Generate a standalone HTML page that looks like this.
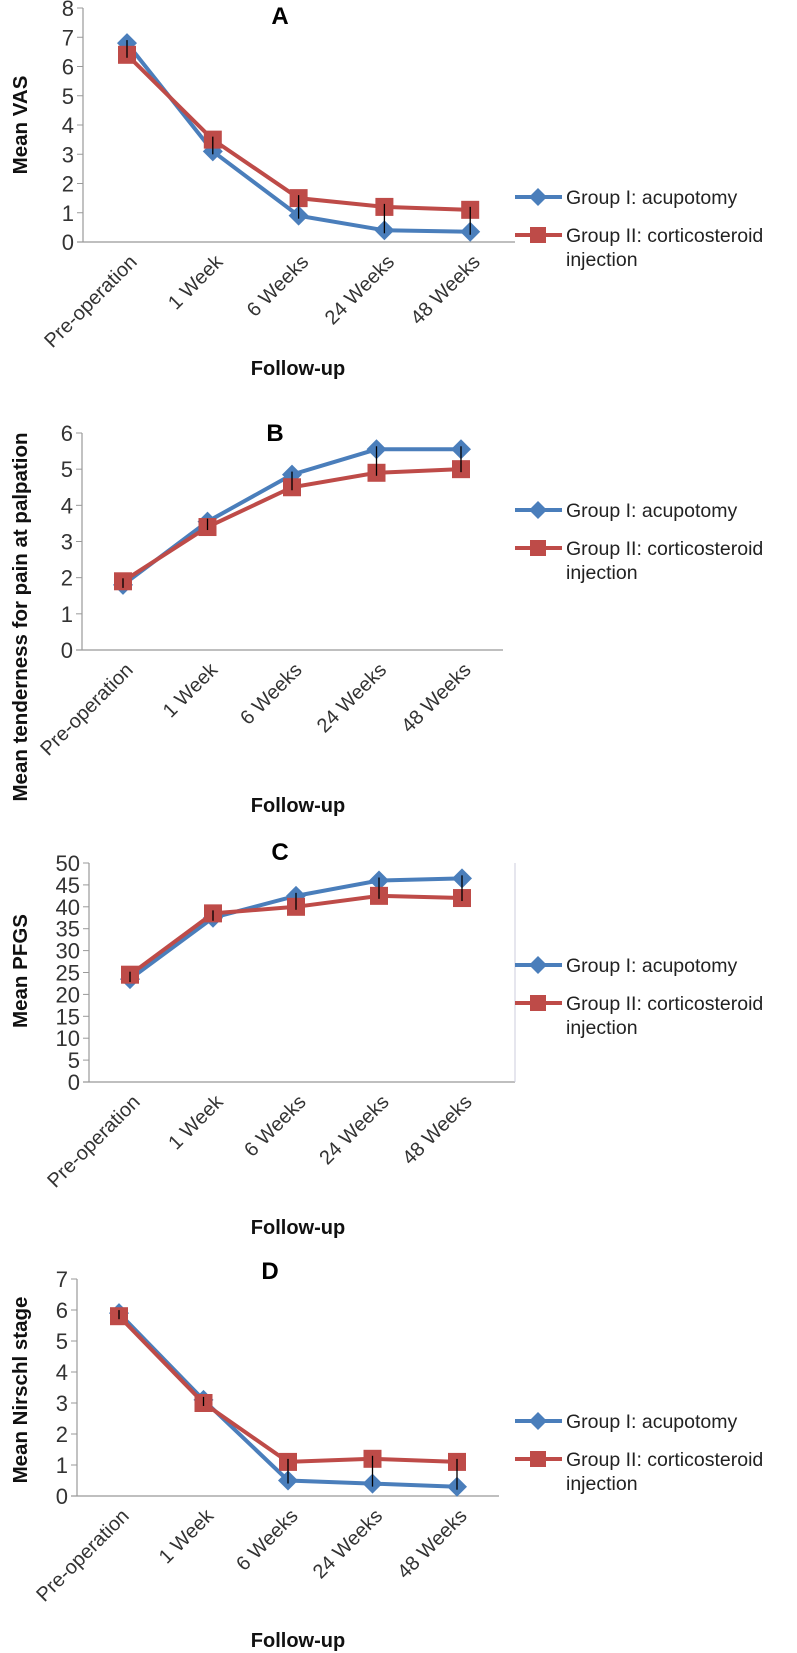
<!DOCTYPE html>
<html><head><meta charset="utf-8"><style>
html,body{margin:0;padding:0;background:#fff;}
svg{display:block;font-family:"Liberation Sans",sans-serif;}
</style></head><body>
<svg id="fig" width="797" height="1653" viewBox="0 0 797 1653" xmlns="http://www.w3.org/2000/svg"></svg>
<script>
const categories = ["Pre-operation","1 Week","6 Weeks","24 Weeks","48 Weeks"];
const aBlue = [6.8,3.1,0.9,0.4,0.35];
const aRed = [6.4,3.5,1.5,1.2,1.1];
const bBlue = [1.8,3.55,4.85,5.55,5.55];
const bRed = [1.9,3.4,4.5,4.9,5.0];
const cBlue = [23.5,37.5,42.5,46,46.5];
const cRed = [24.5,38.5,40,42.5,42];
const dBlue = [5.9,3.1,0.5,0.4,0.3];
const dRed = [5.8,3.0,1.1,1.2,1.1];
const aTicks = [0,1,2,3,4,5,6,7,8];
const bTicks = [0,1,2,3,4,5,6];
const cTicks = [0,5,10,15,20,25,30,35,40,45,50];
const dTicks = [0,1,2,3,4,5,6,7];
const legendLabels = ["Group I: acupotomy","Group II: corticosteroid","injection"];

const NS="http://www.w3.org/2000/svg";
const svg=document.getElementById('fig');
function mk(tag,attrs,parent,text){const e=document.createElementNS(NS,tag);for(const k in attrs)e.setAttribute(k,attrs[k]);if(text!==undefined)e.textContent=text;(parent||svg).appendChild(e);return e;}

const panels=[
 {id:'a',letter:'A',ytitle:'Mean VAS',blue:aBlue,red:aRed,ticks:aTicks,ax:83,y0:242,ymax:8,ytop:8,x0:127,dx:85.8,right:515,titleX:280,titleY:24,followY:375,ytc:125,leg:197,border:false},
 {id:'b',letter:'B',ytitle:'Mean tenderness for pain at palpation',blue:bBlue,red:bRed,ticks:bTicks,ax:82,y0:650,ymax:6,ytop:433,x0:123,dx:84.5,right:503,titleX:275,titleY:441,followY:812,ytc:617,leg:510,border:false},
 {id:'c',letter:'C',ytitle:'Mean PFGS',blue:cBlue,red:cRed,ticks:cTicks,ax:89,y0:1082,ymax:50,ytop:863,x0:130,dx:83,right:515,titleX:280,titleY:860,followY:1234,ytc:971,leg:965,border:true},
 {id:'d',letter:'D',ytitle:'Mean Nirschl stage',blue:dBlue,red:dRed,ticks:dTicks,ax:77,y0:1496,ymax:7,ytop:1279,x0:119,dx:84.5,right:499,titleX:270,titleY:1279,followY:1647,ytc:1390,leg:1421,border:false}
];

panels.forEach(p=>{
  const g=mk('g',{});
  
  
  const ys=v=>p.y0-(v/p.ymax)*(p.y0-p.ytop);
  const xs=i=>p.x0+i*p.dx;
  const yax=mk('line',{x1:p.ax,y1:p.ytop,x2:p.ax,y2:p.y0,stroke:'#999','stroke-width':1.2},g);
  
  
  const xax=mk('line',{x1:p.ax-6,y1:p.y0,x2:p.right,y2:p.y0,stroke:'#999','stroke-width':1.2},g);
  
  
  if(p.border){mk('line',{x1:p.right,y1:p.ytop,x2:p.right,y2:p.y0,stroke:'#ccd','stroke-width':1},g);}
  p.ticks.forEach(t=>{
    mk('line',{x1:p.ax-6,y1:ys(t),x2:p.ax,y2:ys(t),stroke:'#999','stroke-width':1},g);
    const tl=mk('text',{x:p.ax-9,y:ys(t)+8,'text-anchor':'end','font-size':22,fill:'#333'},g,String(t));
    
    
  });
  categories.forEach((c,i)=>{
    const x=xs(i)+4,y=p.y0+14;
    const tl=mk('text',{x:x,y:y,'text-anchor':'end','font-size':20,fill:'#333',transform:`rotate(-45 ${x} ${y}) translate(0 10)`},g,c);
    
    
  });
  const tt=mk('text',{x:p.titleX,y:p.titleY,'text-anchor':'middle','font-size':24,'font-weight':'bold',fill:'#000'},g,p.letter);
  
  
  const ft=mk('text',{x:298,y:p.followY,'text-anchor':'middle','font-size':20,'font-weight':'bold',fill:'#111'},g,'Follow-up');
  
  
  const yc=p.ytc, yx=27;
  const yt=mk('text',{x:yx,y:yc,'text-anchor':'middle','font-size':20.5,'font-weight':'bold',fill:'#111',transform:`rotate(-90 ${yx} ${yc})`},g,p.ytitle);
  
  
  const bl=mk('polyline',{points:p.blue.map((v,i)=>xs(i)+','+ys(v)).join(' '),fill:'none',stroke:'#4a7ebb','stroke-width':4},g);
  
  
  p.blue.forEach((v,i)=>{
    const x=xs(i),y=ys(v);
    const m=mk('polygon',{points:`${x},${y-10} ${x+10},${y} ${x},${y+10} ${x-10},${y}`,fill:'#4a7ebb'},g);
    
    
  });
  const rl=mk('polyline',{points:p.red.map((v,i)=>xs(i)+','+ys(v)).join(' '),fill:'none',stroke:'#be4b48','stroke-width':4},g);
  
  
  p.red.forEach((v,i)=>{
    const x=xs(i),y=ys(v);
    const m=mk('rect',{x:x-9,y:y-9,width:18,height:18,fill:'#be4b48'},g);
    
    
  });
  p.blue.forEach((v,i)=>{
    const a=ys(v),b=ys(p.red[i]);
    const lo=Math.min(a,b)-3,hi=Math.max(a,b)+3;
    const e=mk('line',{x1:xs(i),y1:lo,x2:xs(i),y2:hi,stroke:'#000','stroke-width':1.3},g);
    
    
  });
  const lg=mk('g',{},g);
  
  
  const ly=p.leg;
  mk('line',{x1:515,y1:ly,x2:562,y2:ly,stroke:'#4a7ebb','stroke-width':4},lg);
  mk('polygon',{points:`538,${ly-9} 547,${ly} 538,${ly+9} 529,${ly}`,fill:'#4a7ebb'},lg);
  const l1=mk('text',{x:566,y:ly+7,'font-size':19.5,fill:'#222'},lg,legendLabels[0]);
  
  
  const ry=ly+38;
  mk('line',{x1:515,y1:ry,x2:562,y2:ry,stroke:'#be4b48','stroke-width':4},lg);
  mk('rect',{x:530,y:ry-8,width:16,height:16,fill:'#be4b48'},lg);
  const l2=mk('text',{x:566,y:ry+7,'font-size':19.5,fill:'#222'},lg,legendLabels[1]);
  
  
  mk('text',{x:566,y:ry+31,'font-size':19.5,fill:'#222'},lg,legendLabels[2]);
});
</script>
</body></html>
